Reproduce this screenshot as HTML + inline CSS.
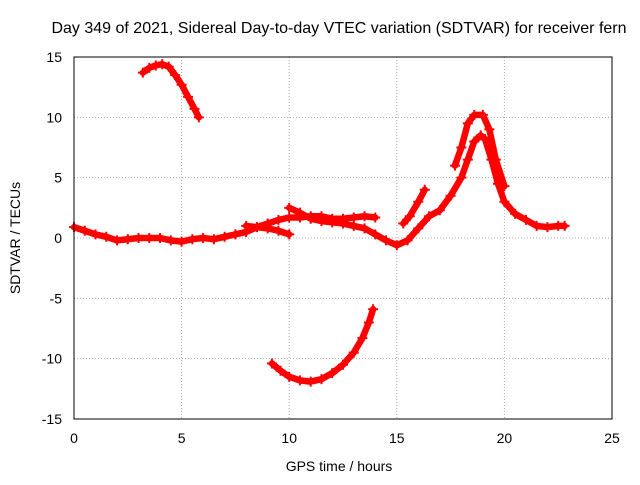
<!DOCTYPE html>
<html><head><meta charset="utf-8"><style>
body{margin:0;background:#fff}
svg text{font-family:"Liberation Sans",sans-serif;font-size:14px;fill:#000}
</style></head><body>
<svg id="chart" width="640" height="480" viewBox="0 0 640 480">
<rect width="640" height="480" fill="#fff"/>
<text x="339" y="33" text-anchor="middle" style="font-size:16px">Day 349 of 2021, Sidereal Day-to-day VTEC variation (SDTVAR) for receiver fern</text>
<text x="339" y="471" text-anchor="middle">GPS time / hours</text>
<text transform="translate(20,238) rotate(-90)" text-anchor="middle">SDTVAR / TECUs</text>
<g id="grid"></g><g id="ticks"></g><g id="marks"></g>
<rect x="74" y="57" width="538" height="362" fill="none" stroke="#000" stroke-width="1"/>
</svg>
<script>
const xTicks=[0,5,10,15,20,25];
const yTicks=[-15,-10,-5,0,5,10,15];
const seriesTopArc=[[3.2,13.7],[3.5,14.1],[3.8,14.3],[4.1,14.4],[4.4,14.2],[4.7,13.5],[5.0,12.7],[5.3,11.7],[5.6,10.7],[5.8,10.0]];
const seriesBottomArc=[[9.2,-10.4],[9.6,-11.0],[10.0,-11.5],[10.5,-11.8],[11.0,-11.9],[11.5,-11.7],[12.0,-11.2],[12.5,-10.5],[13.0,-9.5],[13.4,-8.3],[13.7,-7.0],[13.9,-5.9]];
const seriesMain=[[0,0.9],[0.5,0.6],[1,0.3],[1.5,0.1],[2,-0.2],[2.5,-0.1],[3,0],[3.5,0],[4,0],[4.5,-0.2],[5,-0.3],[5.5,-0.1],[6,0],[6.5,-0.1],[7,0.1],[7.5,0.3],[8,0.5],[8.5,0.9],[9,1.2],[9.5,1.5],[10,1.7],[10.5,1.7],[11,1.8],[11.5,1.8],[12,1.6],[12.5,1.6],[13,1.7],[13.5,1.8],[14,1.7]];
const seriesBranch1=[[8,1.0],[8.5,0.9],[9,0.8],[9.5,0.6],[10,0.3]];
const seriesBranch2=[[10,2.5],[10.5,2.1],[11,1.6],[11.5,1.4],[12,1.3],[12.5,1.2],[13,1.0],[13.5,0.8],[14,0.3],[14.5,-0.2],[15,-0.6],[15.5,-0.2],[16,0.8],[16.5,1.8],[17,2.3],[17.5,3.5],[18,5],[18.3,6.5],[18.6,8],[18.9,8.5],[19.1,8.2],[19.4,6.5],[19.7,4.5],[20,3],[20.5,2],[21,1.5],[21.5,1],[22,0.9],[22.5,1],[22.8,1]];
const seriesPeakUpper=[[17.7,6],[18,7.5],[18.3,9.5],[18.6,10.2],[19,10.2],[19.3,9],[19.6,6.5],[20,4.3]];
const seriesRise=[[15.3,1.2],[15.6,1.8],[16,3],[16.3,4]];
const X=v=>74+v*538/25, Y=v=>238-v*362/30;
const NS="http://www.w3.org/2000/svg";
function mk(t,a,p){const e=document.createElementNS(NS,t);for(const k in a)e.setAttribute(k,a[k]);p.appendChild(e);return e;}
const g=document.getElementById('grid'),tk=document.getElementById('ticks'),m=document.getElementById('marks');
xTicks.forEach(v=>{
 if(v>0&&v<25){const l=mk('line',{x1:X(v),x2:X(v),y1:57,y2:419,stroke:'#aaa','stroke-dasharray':'1,2'},g);
 
 }
 const t=mk('text',{x:X(v),y:443,'text-anchor':'middle'},tk);t.textContent=v;
 
 
});
yTicks.forEach(v=>{
 if(v>-15&&v<15){const l=mk('line',{x1:74,x2:612,y1:Y(v),y2:Y(v),stroke:'#aaa','stroke-dasharray':'1,2'},g);
 
 }
 const t=mk('text',{x:62,y:Y(v)+5,'text-anchor':'end'},tk);t.textContent=v;
 
 
});
[seriesTopArc,seriesBottomArc,seriesMain,seriesBranch1,seriesBranch2,seriesPeakUpper,seriesRise].forEach(s=>{
 const pl=mk('polyline',{points:s.map(p=>X(p[0])+','+Y(p[1])).join(' '),fill:'none',stroke:'#f00','stroke-width':6.5,'stroke-linejoin':'round','stroke-linecap':'round'},m);
 
 
 s.forEach(p=>{const x=X(p[0]),y=Y(p[1]);
  const pt=mk('path',{d:`M${x-5},${y}H${x+5}M${x},${y-5}V${y+5}`,stroke:'#f00','stroke-width':2},m);
  
  });
});
</script>
</body></html>
